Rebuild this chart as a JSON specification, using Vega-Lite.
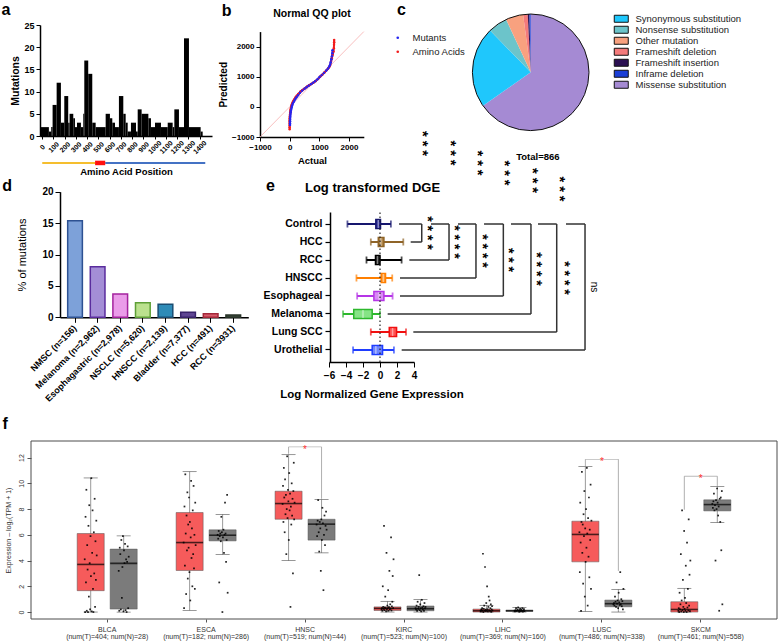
{
"$schema":"https://vega.github.io/schema/vega-lite/v6.json",
"width":778,"height":642,"autosize":"none","padding":0,
"config":{"font":"Liberation Sans","view":{"stroke":null},
 "axis":{"grid":false,"labelFont":"Liberation Sans","titleFont":"Liberation Sans","labelColor":"#000","titleColor":"#000","domainColor":"#000","tickColor":"#000","labelFlush":false,"labelOverlap":false,"labelBound":false},
 "legend":{"labelFont":"Liberation Sans","padding":0}},
"datasets":{
 "hist":[{"s":-15,"e":59,"n":2},{"s":59,"e":80,"n":1},{"s":80,"e":92,"n":2},{"s":92,"e":128,"n":7},{"s":128,"e":166,"n":12},{"s":166,"e":196,"n":3},{"s":196,"e":231,"n":9},{"s":231,"e":243,"n":3},{"s":243,"e":276,"n":5},{"s":276,"e":291,"n":4},{"s":291,"e":309,"n":2},{"s":309,"e":344,"n":3},{"s":344,"e":365,"n":2},{"s":365,"e":374,"n":5},{"s":374,"e":409,"n":17},{"s":409,"e":445,"n":14},{"s":445,"e":475,"n":3},{"s":475,"e":564,"n":2},{"s":564,"e":602,"n":5},{"s":602,"e":623,"n":4},{"s":623,"e":647,"n":3},{"s":647,"e":682,"n":2},{"s":682,"e":721,"n":9},{"s":721,"e":742,"n":5},{"s":742,"e":760,"n":3},{"s":760,"e":789,"n":1},{"s":789,"e":834,"n":3},{"s":834,"e":849,"n":1},{"s":849,"e":884,"n":6},{"s":884,"e":944,"n":5},{"s":944,"e":967,"n":4},{"s":967,"e":1003,"n":2},{"s":1003,"e":1056,"n":3},{"s":1056,"e":1116,"n":2},{"s":1116,"e":1160,"n":3},{"s":1160,"e":1175,"n":2},{"s":1175,"e":1216,"n":6},{"s":1216,"e":1261,"n":2},{"s":1261,"e":1305,"n":22},{"s":1305,"e":1409,"n":2},{"s":1409,"e":1427,"n":1}],
 "qq":[
  {"s":"Amino Acids","a":0,"p":-740},{"s":"Amino Acids","a":0,"p":-680},{"s":"Amino Acids","a":0,"p":-620},{"s":"Amino Acids","a":0,"p":-560},{"s":"Amino Acids","a":0,"p":-500},{"s":"Amino Acids","a":1,"p":-440},{"s":"Amino Acids","a":3,"p":-380},{"s":"Amino Acids","a":6,"p":-320},{"s":"Amino Acids","a":10,"p":-260},{"s":"Amino Acids","a":16,"p":-200},{"s":"Amino Acids","a":24,"p":-140},{"s":"Amino Acids","a":34,"p":-80},{"s":"Amino Acids","a":46,"p":-20},{"s":"Amino Acids","a":60,"p":40},{"s":"Amino Acids","a":75,"p":85},{"s":"Amino Acids","a":89,"p":122},{"s":"Amino Acids","a":110,"p":170},{"s":"Amino Acids","a":135,"p":215},{"s":"Amino Acids","a":165,"p":265},{"s":"Amino Acids","a":200,"p":321},{"s":"Amino Acids","a":240,"p":370},{"s":"Amino Acids","a":290,"p":425},{"s":"Amino Acids","a":367,"p":510},{"s":"Amino Acids","a":440,"p":565},{"s":"Amino Acids","a":510,"p":615},{"s":"Amino Acids","a":589,"p":676},{"s":"Amino Acids","a":660,"p":720},{"s":"Amino Acids","a":740,"p":765},{"s":"Amino Acids","a":811,"p":809},{"s":"Amino Acids","a":880,"p":860},{"s":"Amino Acids","a":960,"p":930},{"s":"Amino Acids","a":1033,"p":1008},{"s":"Amino Acids","a":1100,"p":1070},{"s":"Amino Acids","a":1180,"p":1150},{"s":"Amino Acids","a":1256,"p":1229},{"s":"Amino Acids","a":1310,"p":1290},{"s":"Amino Acids","a":1345,"p":1345},{"s":"Amino Acids","a":1367,"p":1395},{"s":"Amino Acids","a":1395,"p":1500},{"s":"Amino Acids","a":1422,"p":1616},{"s":"Amino Acids","a":1450,"p":1730},{"s":"Amino Acids","a":1478,"p":1838},{"s":"Amino Acids","a":1490,"p":1950},{"s":"Amino Acids","a":1496,"p":2060},{"s":"Amino Acids","a":1500,"p":2150},{"s":"Amino Acids","a":1500,"p":2226},
  {"s":"Mutants","a":12,"p":-600},{"s":"Mutants","a":12,"p":-540},{"s":"Mutants","a":13,"p":-480},{"s":"Mutants","a":14,"p":-420},{"s":"Mutants","a":16,"p":-360},{"s":"Mutants","a":20,"p":-300},{"s":"Mutants","a":26,"p":-240},{"s":"Mutants","a":34,"p":-180},{"s":"Mutants","a":44,"p":-120},{"s":"Mutants","a":56,"p":-60},{"s":"Mutants","a":70,"p":0},{"s":"Mutants","a":84,"p":50},{"s":"Mutants","a":100,"p":100},{"s":"Mutants","a":125,"p":150},{"s":"Mutants","a":155,"p":205},{"s":"Mutants","a":190,"p":265},{"s":"Mutants","a":230,"p":320},{"s":"Mutants","a":280,"p":385},{"s":"Mutants","a":345,"p":470},{"s":"Mutants","a":420,"p":540},{"s":"Mutants","a":500,"p":600},{"s":"Mutants","a":570,"p":655},{"s":"Mutants","a":640,"p":705},{"s":"Mutants","a":720,"p":755},{"s":"Mutants","a":790,"p":800},{"s":"Mutants","a":860,"p":850},{"s":"Mutants","a":940,"p":920},{"s":"Mutants","a":1010,"p":990},{"s":"Mutants","a":1080,"p":1055},{"s":"Mutants","a":1160,"p":1130},{"s":"Mutants","a":1236,"p":1210},{"s":"Mutants","a":1290,"p":1270},{"s":"Mutants","a":1330,"p":1330},{"s":"Mutants","a":1360,"p":1390},{"s":"Mutants","a":1385,"p":1480},{"s":"Mutants","a":1405,"p":1580},{"s":"Mutants","a":1425,"p":1680},{"s":"Mutants","a":1440,"p":1780},{"s":"Mutants","a":1444,"p":1880}],
 "pie":[{"type":"Missense substitution","n":565,"k":1},{"type":"Synonymous substitution","n":195,"k":2},{"type":"Nonsense substitution","n":46,"k":3},{"type":"Other mutation","n":42,"k":4},{"type":"Frameshift deletion","n":11,"k":5},{"type":"Frameshift insertion","n":4,"k":6},{"type":"Inframe deletion","n":3,"k":7}],
 "mut":[{"c":"NMSC (n=156)","v":15.38},{"c":"Melanoma (n=2,962)","v":8.06},{"c":"Esophagastric (n=2,978)","v":3.71},{"c":"NSCLC (n=5,620)","v":2.33},{"c":"HNSCC (n=2,139)","v":2.07},{"c":"Bladder (n=7,377)","v":0.8},{"c":"HCC (n=491)","v":0.58},{"c":"RCC (n=3931)","v":0.37}],
 "dge":[{"grp":"Control","lo":-3.83,"q1":-0.49,"med":-0.2,"q3":0.06,"hi":1.28},{"grp":"HCC","lo":-1.08,"q1":-0.2,"med":0.1,"q3":0.46,"hi":2.74},{"grp":"RCC","lo":-1.59,"q1":-0.53,"med":-0.3,"q3":0.0,"hi":2.54},{"grp":"HNSCC","lo":-2.77,"q1":0.14,"med":0.4,"q3":0.65,"hi":1.44},{"grp":"Esophageal","lo":-2.69,"q1":-0.72,"med":-0.1,"q3":0.46,"hi":1.48},{"grp":"Melanoma","lo":-4.35,"q1":-3.09,"med":-2.0,"q3":-0.92,"hi":0.0},{"grp":"Lung SCC","lo":-1.08,"q1":1.09,"med":1.48,"q3":1.95,"hi":3.06},{"grp":"Urothelial","lo":-3.17,"q1":-0.92,"med":-0.49,"q3":0.3,"hi":1.64}],
 "brk":[{"row":"HCC","xt":2.24,"xb":4.91,"xr":3.61},{"row":"RCC","xt":6.0,"xb":8.12,"xr":3.45},{"row":"HNSCC","xt":9.18,"xb":11.29,"xr":2.35},{"row":"Esophageal","xt":12.24,"xb":14.51,"xr":2.35},{"row":"Melanoma","xt":15.41,"xb":17.76,"xr":0.9},{"row":"Lung SCC","xt":18.59,"xb":20.79,"xr":3.92},{"row":"Urothelial","xt":21.88,"xb":24.12,"xr":2.55}],
 "sig":[{"x":5.96,"y":0.86,"lab":"* * * *"},{"x":9.13,"y":0.8,"lab":"* * * *"},{"x":12.38,"y":0.74,"lab":"* * * *"},{"x":15.53,"y":0.68,"lab":"* * *"},{"x":18.8,"y":0.62,"lab":"* * * *"},{"x":22.03,"y":0.56,"lab":"* * * *"}],
 "fstars":[{"x":5.38,"y":1.4567},{"x":8.71,"y":1.3933},{"x":11.88,"y":1.3267},{"x":15.06,"y":1.26},{"x":18.35,"y":1.21},{"x":21.53,"y":1.1533}],
 "fbox":[{"g":"BLCA","t":"Tumor","lo":0,"q1":1.66,"med":3.7,"q3":6.1,"hi":10.42},{"g":"BLCA","t":"Normal","lo":0,"q1":0.23,"med":3.78,"q3":4.89,"hi":5.92},{"g":"ESCA","t":"Tumor","lo":0.13,"q1":3.23,"med":5.4,"q3":7.73,"hi":10.91},{"g":"ESCA","t":"Normal","lo":4.47,"q1":5.53,"med":5.97,"q3":6.39,"hi":7.58},{"g":"HNSC","t":"Tumor","lo":4.0,"q1":7.21,"med":8.43,"q3":9.39,"hi":12.23},{"g":"HNSC","t":"Normal","lo":4.6,"q1":5.59,"med":6.83,"q3":7.21,"hi":8.74},{"g":"KIRC","t":"Tumor","lo":0,"q1":0.12,"med":0.28,"q3":0.4,"hi":0.83},{"g":"KIRC","t":"Normal","lo":0,"q1":0.1,"med":0.26,"q3":0.47,"hi":0.98},{"g":"LIHC","t":"Tumor","lo":0,"q1":0.0,"med":0.1,"q3":0.23,"hi":0.52},{"g":"LIHC","t":"Normal","lo":0,"q1":0.05,"med":0.1,"q3":0.15,"hi":0.36},{"g":"LUSC","t":"Tumor","lo":0.05,"q1":3.9,"med":6.03,"q3":7.06,"hi":11.3},{"g":"LUSC","t":"Normal","lo":0,"q1":0.41,"med":0.65,"q3":0.93,"hi":1.76},{"g":"SKCM","t":"Tumor","lo":0,"q1":0.0,"med":0.2,"q3":0.8,"hi":1.84},{"g":"SKCM","t":"Normal","lo":6.95,"q1":7.86,"med":8.35,"q3":8.72,"hi":9.75}],
 "fbr":[{"g":"HNSC","t":"Tumor","y1":12.3,"y2":12.83},{"g":"HNSC","t":"Normal","y1":8.8,"y2":12.83},{"g":"LUSC","t":"Tumor","y1":11.35,"y2":11.87},{"g":"LUSC","t":"Normal","y1":3.2,"y2":11.87},{"g":"SKCM","t":"Tumor","y1":7.95,"y2":10.55},{"g":"SKCM","t":"Normal","y1":9.8,"y2":10.55}],
 "fbh":[{"g":"HNSC","y":12.83},{"g":"LUSC","y":11.87},{"g":"SKCM","y":10.55}],
 "ptsT":[
  {"g":"BLCA","v":4.1},{"g":"BLCA","v":0.0},{"g":"BLCA","v":7.4},{"g":"BLCA","v":2.3},{"g":"BLCA","v":9.5},{"g":"BLCA","v":0.1},{"g":"BLCA","v":5.2},{"g":"BLCA","v":3.3},{"g":"BLCA","v":0.0},{"g":"BLCA","v":6.7},{"g":"BLCA","v":1.2},{"g":"BLCA","v":8.3},{"g":"BLCA","v":3.8},{"g":"BLCA","v":0.2},{"g":"BLCA","v":5.9},{"g":"BLCA","v":2.8},{"g":"BLCA","v":10.4},{"g":"BLCA","v":0.05},{"g":"BLCA","v":4.6},{"g":"BLCA","v":7.9},{"g":"BLCA","v":1.8},{"g":"BLCA","v":0.0},{"g":"BLCA","v":6.2},{"g":"BLCA","v":3.0},{"g":"BLCA","v":8.8},{"g":"BLCA","v":0.4},{"g":"BLCA","v":5.5},{"g":"BLCA","v":2.5},{"g":"BLCA","v":7.1},{"g":"BLCA","v":4.4},
  {"g":"ESCA","v":5.4},{"g":"ESCA","v":0.3},{"g":"ESCA","v":8.2},{"g":"ESCA","v":3.6},{"g":"ESCA","v":10.7},{"g":"ESCA","v":6.1},{"g":"ESCA","v":1.4},{"g":"ESCA","v":7.5},{"g":"ESCA","v":4.8},{"g":"ESCA","v":9.3},{"g":"ESCA","v":2.6},{"g":"ESCA","v":6.8},{"g":"ESCA","v":5.0},{"g":"ESCA","v":8.9},{"g":"ESCA","v":3.1},{"g":"ESCA","v":7.0},{"g":"ESCA","v":0.9},{"g":"ESCA","v":5.8},{"g":"ESCA","v":10.2},{"g":"ESCA","v":4.2},{"g":"ESCA","v":6.5},{"g":"ESCA","v":2.0},{"g":"ESCA","v":7.9},{"g":"ESCA","v":4.5},{"g":"ESCA","v":9.8},{"g":"ESCA","v":3.4},{"g":"ESCA","v":6.0},{"g":"ESCA","v":1.8},{"g":"ESCA","v":8.5},{"g":"ESCA","v":5.2},
  {"g":"HNSC","v":8.4},{"g":"HNSC","v":9.8},{"g":"HNSC","v":7.0},{"g":"HNSC","v":11.2},{"g":"HNSC","v":8.9},{"g":"HNSC","v":6.2},{"g":"HNSC","v":10.3},{"g":"HNSC","v":7.6},{"g":"HNSC","v":9.1},{"g":"HNSC","v":4.5},{"g":"HNSC","v":8.0},{"g":"HNSC","v":12.1},{"g":"HNSC","v":7.3},{"g":"HNSC","v":9.5},{"g":"HNSC","v":8.6},{"g":"HNSC","v":5.6},{"g":"HNSC","v":10.8},{"g":"HNSC","v":7.9},{"g":"HNSC","v":9.2},{"g":"HNSC","v":0.4},{"g":"HNSC","v":8.2},{"g":"HNSC","v":6.8},{"g":"HNSC","v":10.0},{"g":"HNSC","v":7.5},{"g":"HNSC","v":8.8},{"g":"HNSC","v":3.0},{"g":"HNSC","v":9.4},{"g":"HNSC","v":11.6},{"g":"HNSC","v":7.2},{"g":"HNSC","v":8.5},
  {"g":"KIRC","v":0.2},{"g":"KIRC","v":0.3},{"g":"KIRC","v":0.1},{"g":"KIRC","v":2.0},{"g":"KIRC","v":0.4},{"g":"KIRC","v":0.25},{"g":"KIRC","v":6.7},{"g":"KIRC","v":0.15},{"g":"KIRC","v":0.35},{"g":"KIRC","v":1.2},{"g":"KIRC","v":0.3},{"g":"KIRC","v":0.05},{"g":"KIRC","v":4.6},{"g":"KIRC","v":0.2},{"g":"KIRC","v":0.5},{"g":"KIRC","v":0.3},{"g":"KIRC","v":1.7},{"g":"KIRC","v":0.1},{"g":"KIRC","v":0.38},{"g":"KIRC","v":3.2},{"g":"KIRC","v":0.22},{"g":"KIRC","v":0.6},{"g":"KIRC","v":0.28},{"g":"KIRC","v":5.8},{"g":"KIRC","v":0.12},{"g":"KIRC","v":0.45},{"g":"KIRC","v":0.8},{"g":"KIRC","v":2.8},{"g":"KIRC","v":0.3},{"g":"KIRC","v":4.1},
  {"g":"LIHC","v":0.1},{"g":"LIHC","v":0.05},{"g":"LIHC","v":0.2},{"g":"LIHC","v":0.15},{"g":"LIHC","v":0.3},{"g":"LIHC","v":0.1},{"g":"LIHC","v":4.53},{"g":"LIHC","v":0.0},{"g":"LIHC","v":0.25},{"g":"LIHC","v":0.5},{"g":"LIHC","v":0.12},{"g":"LIHC","v":3.5},{"g":"LIHC","v":0.08},{"g":"LIHC","v":0.18},{"g":"LIHC","v":0.7},{"g":"LIHC","v":0.1},{"g":"LIHC","v":2.0},{"g":"LIHC","v":0.22},{"g":"LIHC","v":0.05},{"g":"LIHC","v":0.4},{"g":"LIHC","v":1.2},{"g":"LIHC","v":0.14},{"g":"LIHC","v":0.9},{"g":"LIHC","v":0.1},{"g":"LIHC","v":0.3},{"g":"LIHC","v":0.6},{"g":"LIHC","v":0.02},{"g":"LIHC","v":0.2},{"g":"LIHC","v":0.45},{"g":"LIHC","v":0.12},
  {"g":"LUSC","v":6.2},{"g":"LUSC","v":3.1},{"g":"LUSC","v":8.5},{"g":"LUSC","v":5.4},{"g":"LUSC","v":0.1},{"g":"LUSC","v":7.0},{"g":"LUSC","v":10.9},{"g":"LUSC","v":4.6},{"g":"LUSC","v":6.8},{"g":"LUSC","v":2.2},{"g":"LUSC","v":7.6},{"g":"LUSC","v":5.9},{"g":"LUSC","v":9.4},{"g":"LUSC","v":1.2},{"g":"LUSC","v":6.5},{"g":"LUSC","v":3.9},{"g":"LUSC","v":8.0},{"g":"LUSC","v":5.0},{"g":"LUSC","v":11.2},{"g":"LUSC","v":6.1},{"g":"LUSC","v":0.5},{"g":"LUSC","v":7.3},{"g":"LUSC","v":4.3},{"g":"LUSC","v":8.9},{"g":"LUSC","v":2.7},{"g":"LUSC","v":6.4},{"g":"LUSC","v":5.6},{"g":"LUSC","v":9.9},{"g":"LUSC","v":1.8},{"g":"LUSC","v":7.1},
  {"g":"SKCM","v":0.1},{"g":"SKCM","v":0.3},{"g":"SKCM","v":0.0},{"g":"SKCM","v":1.5},{"g":"SKCM","v":0.2},{"g":"SKCM","v":0.6},{"g":"SKCM","v":4.5},{"g":"SKCM","v":0.05},{"g":"SKCM","v":0.9},{"g":"SKCM","v":7.9},{"g":"SKCM","v":0.15},{"g":"SKCM","v":2.5},{"g":"SKCM","v":0.4},{"g":"SKCM","v":0.0},{"g":"SKCM","v":6.3},{"g":"SKCM","v":0.25},{"g":"SKCM","v":1.1},{"g":"SKCM","v":0.1},{"g":"SKCM","v":3.6},{"g":"SKCM","v":0.7},{"g":"SKCM","v":0.0},{"g":"SKCM","v":5.4},{"g":"SKCM","v":0.35},{"g":"SKCM","v":1.8},{"g":"SKCM","v":0.12},{"g":"SKCM","v":7.2},{"g":"SKCM","v":0.5},{"g":"SKCM","v":2.9},{"g":"SKCM","v":0.08},{"g":"SKCM","v":4.0}],
 "ptsN":[
  {"g":"BLCA","v":3.2},{"g":"BLCA","v":0.1},{"g":"BLCA","v":5.0},{"g":"BLCA","v":4.5},{"g":"BLCA","v":0.2},{"g":"BLCA","v":5.6},{"g":"BLCA","v":1.1},{"g":"BLCA","v":3.5},{"g":"BLCA","v":5.9},{"g":"BLCA","v":0.05},{"g":"BLCA","v":4.8},{"g":"BLCA","v":3.8},{"g":"BLCA","v":5.3},{"g":"BLCA","v":0.15},{"g":"BLCA","v":4.1},{"g":"BLCA","v":0.0},{"g":"BLCA","v":3.9},{"g":"BLCA","v":5.1},{"g":"BLCA","v":0.3},{"g":"BLCA","v":4.3},
  {"g":"ESCA","v":6.0},{"g":"ESCA","v":5.7},{"g":"ESCA","v":6.3},{"g":"ESCA","v":2.3},{"g":"ESCA","v":5.9},{"g":"ESCA","v":6.1},{"g":"ESCA","v":5.5},{"g":"ESCA","v":7.4},{"g":"ESCA","v":6.2},{"g":"ESCA","v":0.0},{"g":"ESCA","v":5.8},{"g":"ESCA","v":6.4},{"g":"ESCA","v":4.6},{"g":"ESCA","v":6.0},{"g":"ESCA","v":8.5},{"g":"ESCA","v":6.1},{"g":"ESCA","v":3.9},{"g":"ESCA","v":5.6},{"g":"ESCA","v":9.1},{"g":"ESCA","v":1.5},
  {"g":"HNSC","v":6.8},{"g":"HNSC","v":5.9},{"g":"HNSC","v":7.1},{"g":"HNSC","v":8.7},{"g":"HNSC","v":6.2},{"g":"HNSC","v":4.7},{"g":"HNSC","v":7.0},{"g":"HNSC","v":6.5},{"g":"HNSC","v":3.2},{"g":"HNSC","v":7.2},{"g":"HNSC","v":5.6},{"g":"HNSC","v":8.1},{"g":"HNSC","v":6.9},{"g":"HNSC","v":1.7},{"g":"HNSC","v":6.0},{"g":"HNSC","v":7.5},{"g":"HNSC","v":5.2},{"g":"HNSC","v":6.7},{"g":"HNSC","v":7.8},{"g":"HNSC","v":6.4},
  {"g":"KIRC","v":0.3},{"g":"KIRC","v":0.2},{"g":"KIRC","v":0.5},{"g":"KIRC","v":0.1},{"g":"KIRC","v":0.8},{"g":"KIRC","v":0.25},{"g":"KIRC","v":0.4},{"g":"KIRC","v":2.87},{"g":"KIRC","v":0.15},{"g":"KIRC","v":0.6},{"g":"KIRC","v":0.3},{"g":"KIRC","v":0.05},{"g":"KIRC","v":0.95},{"g":"KIRC","v":0.35},{"g":"KIRC","v":0.2},{"g":"KIRC","v":0.45},{"g":"KIRC","v":0.1},{"g":"KIRC","v":0.7},{"g":"KIRC","v":0.28},{"g":"KIRC","v":0.4},
  {"g":"LIHC","v":0.1},{"g":"LIHC","v":0.05},{"g":"LIHC","v":0.15},{"g":"LIHC","v":0.3},{"g":"LIHC","v":0.08},{"g":"LIHC","v":0.12},{"g":"LIHC","v":0.2},{"g":"LIHC","v":0.36},{"g":"LIHC","v":0.1},{"g":"LIHC","v":0.02},{"g":"LIHC","v":0.14},{"g":"LIHC","v":0.25},{"g":"LIHC","v":0.06},{"g":"LIHC","v":0.18},{"g":"LIHC","v":0.1},{"g":"LIHC","v":0.3},{"g":"LIHC","v":0.04},{"g":"LIHC","v":0.12},{"g":"LIHC","v":0.22},{"g":"LIHC","v":0.07},
  {"g":"LUSC","v":0.6},{"g":"LUSC","v":0.7},{"g":"LUSC","v":0.5},{"g":"LUSC","v":1.2},{"g":"LUSC","v":0.8},{"g":"LUSC","v":0.4},{"g":"LUSC","v":2.3},{"g":"LUSC","v":0.65},{"g":"LUSC","v":0.9},{"g":"LUSC","v":0.3},{"g":"LUSC","v":1.5},{"g":"LUSC","v":0.75},{"g":"LUSC","v":0.55},{"g":"LUSC","v":3.1},{"g":"LUSC","v":0.6},{"g":"LUSC","v":1.0},{"g":"LUSC","v":0.45},{"g":"LUSC","v":0.85},{"g":"LUSC","v":0.2},{"g":"LUSC","v":1.8},
  {"g":"SKCM","v":8.4},{"g":"SKCM","v":8.1},{"g":"SKCM","v":8.6},{"g":"SKCM","v":9.2},{"g":"SKCM","v":7.9},{"g":"SKCM","v":8.3},{"g":"SKCM","v":4.0},{"g":"SKCM","v":8.7},{"g":"SKCM","v":8.0},{"g":"SKCM","v":9.6},{"g":"SKCM","v":8.5},{"g":"SKCM","v":7.5},{"g":"SKCM","v":8.2},{"g":"SKCM","v":0.1},{"g":"SKCM","v":8.8},{"g":"SKCM","v":7.0},{"g":"SKCM","v":8.9},{"g":"SKCM","v":4.8},{"g":"SKCM","v":9.4},{"g":"SKCM","v":0.6}]
},
"layer":[
 {"layer":[
  {"data":{"name":"hist"},"mark":{"type":"rect","color":"#000"},
   "encoding":{
    "x":{"field":"s","type":"quantitative","scale":{"domain":[-20,1510],"range":[40,212],"nice":false,"zero":false},
      "axis":{"orient":"bottom","offset":-506,"values":[0,100,200,300,400,500,600,700,800,900,1000,1100,1200,1300,1400],"format":"d","labelAngle":-45,"labelAlign":"center","labelBaseline":"middle","labelPadding":8,"labelFontSize":7,"labelFontWeight":"bold","tickSize":3,"domainWidth":1.5,"title":"Amino Acid  Position","titleFontSize":9.5,"titleFontWeight":"bold","titleY":35,"titleBaseline":"middle"}},
    "x2":{"field":"e"},
    "y":{"field":"n","type":"quantitative","scale":{"domain":[0,25],"range":[136,25],"nice":false,"zero":false},
      "axis":{"orient":"left","offset":-40,"values":[0,5,10,15,20,25],"labelFontSize":9,"labelFontWeight":"bold","tickSize":4,"labelPadding":2,"domainWidth":1.5,"title":"Mutations","titleFontSize":10.5,"titleFontWeight":"bold","titlePadding":3}},
    "y2":{"datum":0}}},
  {"data":{"values":[{}]},"mark":{"type":"rule","color":"#F5BE2E","strokeWidth":2},"encoding":{"x":{"datum":0,"type":"quantitative"},"x2":{"datum":470},"y":{"datum":-6.07,"type":"quantitative"}}},
  {"data":{"values":[{}]},"mark":{"type":"rule","color":"#4472C4","strokeWidth":2},"encoding":{"x":{"datum":560,"type":"quantitative"},"x2":{"datum":1450},"y":{"datum":-6.07,"type":"quantitative"}}},
  {"data":{"values":[{}]},"mark":{"type":"rule","color":"#FF1010","strokeWidth":4.5},"encoding":{"x":{"datum":470,"type":"quantitative"},"x2":{"datum":560},"y":{"datum":-6.07,"type":"quantitative"}}},
  {"data":{"values":[{}]},"mark":{"type":"text","text":"a","fontSize":16,"fontWeight":"bold","align":"left","baseline":"middle"},"encoding":{"x":{"datum":-361.5,"type":"quantitative"},"y":{"datum":28.3,"type":"quantitative"}}},
  {"data":{"values":[{}]},"mark":{"type":"text","text":"d","fontSize":16,"fontWeight":"bold","align":"left","baseline":"middle"},"encoding":{"x":{"datum":-356,"type":"quantitative"},"y":{"datum":-11.24,"type":"quantitative"}}},
  {"data":{"values":[{}]},"mark":{"type":"text","text":"f","fontSize":16,"fontWeight":"bold","align":"left","baseline":"middle"},"encoding":{"x":{"datum":-352.6,"type":"quantitative"},"y":{"datum":-64.94,"type":"quantitative"}}}
 ]},
 {"layer":[
  {"data":{"values":[{}]},"mark":{"type":"rule","color":"#F6AFAF","strokeWidth":0.8},
   "encoding":{
    "x":{"datum":-1000,"type":"quantitative","scale":{"domain":[-1000,2500],"range":[260,363.8],"nice":false,"zero":false},
      "axis":{"orient":"bottom","offset":-505,"values":[-1000,0,1000,2000],"format":"d","labelFontSize":8,"labelFontWeight":"bold","tickSize":4,"labelPadding":2,"domainWidth":1.5,"title":"Actual","titleFontSize":9.5,"titleFontWeight":"bold","titlePadding":4}},
    "x2":{"datum":2500},
    "y":{"datum":-1000,"type":"quantitative","scale":{"domain":[-1000,2500],"range":[137,31.6],"nice":false,"zero":false},
      "axis":{"orient":"left","offset":-260,"values":[-1000,0,1000,2000],"format":"d","labelFontSize":8,"labelFontWeight":"bold","tickSize":4,"labelPadding":2,"domainWidth":1.5,"title":"Predicted","titleFontSize":10,"titleFontWeight":"bold","titlePadding":3}},
    "y2":{"datum":2500}}},
  {"data":{"name":"qq"},"mark":{"type":"line","strokeWidth":2},
   "encoding":{"x":{"field":"a","type":"quantitative"},"y":{"field":"p","type":"quantitative"},"order":{"field":"p","type":"quantitative"},
    "color":{"field":"s","type":"nominal","scale":{"domain":["Mutants","Amino Acids"],"range":["#2424F0","#F21C1C"]}}}},
  {"data":{"name":"qq"},"mark":{"type":"point","filled":true,"size":6,"opacity":1},
   "encoding":{"x":{"field":"a","type":"quantitative"},"y":{"field":"p","type":"quantitative"},
    "color":{"field":"s","type":"nominal","legend":{"orient":"none","legendX":393,"legendY":33,"title":null,"symbolType":"circle","symbolSize":7,"symbolStrokeWidth":0,"labelFontSize":9.5,"labelOffset":10,"rowPadding":3,"labelColor":"#222"}}}},
  {"data":{"values":[{}]},"mark":{"type":"text","text":"Normal QQ plot","fontSize":10.5,"fontWeight":"bold","align":"center","baseline":"middle"},"encoding":{"x":{"datum":752.6,"type":"quantitative"},"y":{"datum":3084.5,"type":"quantitative"}}},
  {"data":{"values":[{}]},"mark":{"type":"text","text":"b","fontSize":16,"fontWeight":"bold","align":"left","baseline":"middle"},"encoding":{"x":{"datum":-2291,"type":"quantitative"},"y":{"datum":3200,"type":"quantitative"}}},
  {"data":{"values":[{}]},"mark":{"type":"text","text":"c","fontSize":16,"fontWeight":"bold","align":"left","baseline":"middle"},"encoding":{"x":{"datum":3617,"type":"quantitative"},"y":{"datum":3217,"type":"quantitative"}}},
  {"data":{"values":[{}]},"mark":{"type":"text","text":"Total=866","fontSize":9.5,"fontWeight":"bold","align":"center","baseline":"middle"},"encoding":{"x":{"datum":8370,"type":"quantitative"},"y":{"datum":-1664,"type":"quantitative"}}}
 ]},
 {"layer":[
  {"data":{"name":"pie"},"mark":{"type":"arc","outerRadius":58.3},
   "encoding":{
    "theta":{"field":"n","type":"quantitative"},
    "order":{"field":"k","type":"quantitative"},
    "color":{"field":"type","type":"nominal","scale":{"domain":["Synonymous substitution","Nonsense substitution","Other mutation","Frameshift deletion","Frameshift insertion","Inframe deletion","Missense substitution"],"range":["#1FC7FC","#6CC4CA","#F8A17F","#F47B7B","#2B1052","#1B3FD6","#A58AD3"]},
      "legend":{"orient":"none","legendX":616.5,"legendY":14,"title":null,"symbolType":"M-2,-1L2,-1L2,1L-2,1Z","symbolSize":49,"symbolStrokeColor":"#111","symbolStrokeWidth":1,"labelFontSize":9.5,"labelOffset":9.5,"rowPadding":-1,"labelColor":"#222"}},
    "x":{"datum":"c","type":"nominal","scale":{"type":"point","domain":["c"],"range":[472.4,589]},"axis":null},
    "y":{"datum":"c","type":"nominal","scale":{"type":"point","domain":["c"],"range":[130.6,14]},"axis":null}}},
  {"data":{"values":[{}]},"mark":{"type":"arc","outerRadius":58.3,"theta":0,"theta2":6.2832,"filled":false,"stroke":"#111","strokeWidth":1},
   "encoding":{"x":{"datum":"c","type":"nominal"},"y":{"datum":"c","type":"nominal"}}}
 ]},
 {"layer":[
  {"data":{"name":"mut"},"mark":{"type":"bar","strokeWidth":1.5},
   "encoding":{
    "x":{"field":"c","type":"nominal","scale":{"domain":["NMSC (n=156)","Melanoma (n=2,962)","Esophagastric (n=2,978)","NSCLC (n=5,620)","HNSCC (n=2,139)","Bladder (n=7,377)","HCC (n=491)","RCC (n=3931)"],"range":[60,248.3],"paddingInner":0.35,"paddingOuter":0.34},
      "axis":{"orient":"bottom","offset":-324.7,"labelAngle":-45,"labelAlign":"right","labelBaseline":"middle","labelFontSize":9,"labelFontWeight":"bold","tickSize":5,"labelPadding":4,"domainWidth":1.5,"title":null}},
    "y":{"field":"v","type":"quantitative","scale":{"domain":[0,20],"range":[317.3,191.7],"nice":false},
      "axis":{"orient":"left","offset":-60,"values":[0,5,10,15,20],"labelFontSize":10,"labelFontWeight":"bold","tickSize":5,"labelPadding":2,"domainWidth":1.5,"title":"% of mutations","titleFontSize":11,"titleFontWeight":"normal","titlePadding":14}},
    "fill":{"field":"c","type":"nominal","scale":{"domain":["NMSC (n=156)","Melanoma (n=2,962)","Esophagastric (n=2,978)","NSCLC (n=5,620)","HNSCC (n=2,139)","Bladder (n=7,377)","HCC (n=491)","RCC (n=3931)"],"range":["#7DA1D9","#A48ED6","#EA9CE9","#BBE18E","#2E8BB7","#5F4693","#D95D6C","#3E4C3E"]},"legend":null},
    "stroke":{"field":"c","type":"nominal","scale":{"domain":["NMSC (n=156)","Melanoma (n=2,962)","Esophagastric (n=2,978)","NSCLC (n=5,620)","HNSCC (n=2,139)","Bladder (n=7,377)","HCC (n=491)","RCC (n=3931)"],"range":["#2D5192","#5A2C9D","#A4239E","#5E9F37","#1A4D72","#39236A","#A3283A","#283328"]},"legend":null}}}
 ]},
 {"layer":[
  {"layer":[
   {"data":{"name":"dge"},"mark":{"type":"rule","strokeWidth":1.8},
    "encoding":{
     "x":{"field":"lo","type":"quantitative","scale":{"domain":[-6,4],"range":[329,414],"nice":false,"zero":false},
       "axis":{"orient":"bottom","offset":-280,"values":[-6,-4,-2,0,2,4],"format":"d","domain":true,"domainColor":"#000","labelFontSize":10,"labelFontWeight":"bold","tickSize":5,"labelPadding":3,"domainWidth":1.5,"title":"Log Normalized Gene Expression","titleFontSize":11.5,"titleFontWeight":"bold","titlePadding":8}},
     "x2":{"field":"hi"},
     "y":{"field":"grp","type":"nominal","scale":{"domain":["Control","HCC","RCC","HNSCC","Esophageal","Melanoma","Lung SCC","Urothelial"],"range":[212,362],"paddingInner":0.5,"paddingOuter":0.417},
       "axis":{"orient":"left","offset":-330,"labelFontSize":10.5,"labelFontWeight":"bold","tickSize":5,"labelPadding":3,"domainWidth":1.5,"tickWidth":1.2,"title":null}},
     "color":{"field":"grp","type":"nominal","scale":{"domain":["Control","HCC","RCC","HNSCC","Esophageal","Melanoma","Lung SCC","Urothelial"],"range":["#16166E","#8F6428","#000000","#FF7F00","#B535E6","#2DB82D","#F01010","#1F3DFF"]},"legend":null}}},
   {"data":{"name":"dge"},"mark":{"type":"tick","size":7,"thickness":1.8},
    "encoding":{"x":{"field":"lo","type":"quantitative"},"y":{"field":"grp","type":"nominal"},"color":{"field":"grp","type":"nominal","legend":null}}},
   {"data":{"name":"dge"},"mark":{"type":"tick","size":7,"thickness":1.8},
    "encoding":{"x":{"field":"hi","type":"quantitative"},"y":{"field":"grp","type":"nominal"},"color":{"field":"grp","type":"nominal","legend":null}}},
   {"data":{"name":"dge"},"mark":{"type":"bar","strokeWidth":1.5},
    "encoding":{"x":{"field":"q1","type":"quantitative"},"x2":{"field":"q3"},"y":{"field":"grp","type":"nominal"},
     "fill":{"field":"grp","type":"nominal","scale":{"domain":["Control","HCC","RCC","HNSCC","Esophageal","Melanoma","Lung SCC","Urothelial"],"range":["#2B2B98","#B08547","#1A1A1A","#FF9326","#D98CF5","#86E486","#FF5252","#6F86FF"]},"legend":null},
     "stroke":{"field":"grp","type":"nominal","scale":{"domain":["Control","HCC","RCC","HNSCC","Esophageal","Melanoma","Lung SCC","Urothelial"],"range":["#16166E","#8F6428","#000000","#FF7F00","#B535E6","#2DB82D","#F01010","#1F3DFF"]},"legend":null}}},
   {"data":{"name":"dge"},"mark":{"type":"tick","size":8,"thickness":1.5,"color":"#FFFFFF","opacity":0.45},
    "encoding":{"x":{"field":"med","type":"quantitative"},"y":{"field":"grp","type":"nominal"}}},
   {"data":{"name":"brk"},"mark":{"type":"rule","color":"#333","strokeWidth":1.5},
    "encoding":{"x":{"field":"xt","type":"quantitative"},"x2":{"field":"xb"},"y":{"datum":"Control","type":"nominal"}}},
   {"data":{"name":"brk"},"mark":{"type":"rule","color":"#333","strokeWidth":1.5},
    "encoding":{"x":{"field":"xb","type":"quantitative"},"y":{"field":"row","type":"nominal"},"y2":{"datum":"Control"}}},
   {"data":{"name":"brk"},"mark":{"type":"rule","color":"#333","strokeWidth":1.5},
    "encoding":{"x":{"field":"xr","type":"quantitative"},"x2":{"field":"xb"},"y":{"field":"row","type":"nominal"}}}
  ]},
  {"layer":[
   {"data":{"values":[{}]},"mark":{"type":"rule","color":"#222","strokeWidth":1.2,"strokeDash":[1.5,2.5]},
    "encoding":{"x":{"datum":0,"type":"quantitative"},"y":{"datum":0,"type":"quantitative","scale":{"domain":[0,1],"range":[362,212],"nice":false,"zero":false},"axis":null},"y2":{"datum":1}}},
   {"data":{"name":"sig"},"mark":{"type":"text","fontSize":14,"fontWeight":"bold","angle":90,"align":"center","baseline":"middle","dy":3.7},
    "encoding":{"x":{"field":"x","type":"quantitative"},"y":{"field":"y","type":"quantitative"},"text":{"field":"lab","type":"nominal"}}},
   {"data":{"name":"fstars"},"mark":{"type":"text","text":"* * *","fontSize":14.5,"fontWeight":"bold","angle":90,"align":"center","baseline":"middle","dy":3.7},
    "encoding":{"x":{"field":"x","type":"quantitative"},"y":{"field":"y","type":"quantitative"}}},
   {"data":{"values":[{}]},"mark":{"type":"text","text":"ns","fontSize":10,"angle":90,"align":"center","baseline":"middle"},
    "encoding":{"x":{"datum":25.17,"type":"quantitative"},"y":{"datum":0.5,"type":"quantitative"}}},
   {"data":{"values":[{}]},"mark":{"type":"text","text":"Log transformed DGE","fontSize":13,"fontWeight":"bold","align":"center","baseline":"middle"},
    "encoding":{"x":{"datum":-0.88,"type":"quantitative"},"y":{"datum":1.158,"type":"quantitative"}}},
   {"data":{"values":[{}]},"mark":{"type":"text","text":"e","fontSize":16,"fontWeight":"bold","align":"left","baseline":"middle"},
    "encoding":{"x":{"datum":-13.41,"type":"quantitative"},"y":{"datum":1.1733,"type":"quantitative"}}}
  ]}
 ],"resolve":{"scale":{"y":"independent"},"axis":{"y":"independent"}}},
 {"layer":[
  {"data":{"values":[{}]},"mark":{"type":"rect","filled":false,"stroke":"#4d4d4d","strokeWidth":1},
   "encoding":{"x":{"datum":0,"type":"quantitative","scale":{"domain":[0,1],"range":[31,777],"nice":false,"zero":false},"axis":null},"x2":{"datum":1},"y":{"datum":-0.54,"type":"quantitative"},"y2":{"datum":13.29}}},
  {"layer":[
   {"layer":[
    {"data":{"name":"fbox"},"mark":{"type":"rule","color":"#555","strokeWidth":0.6},
     "encoding":{
      "x":{"field":"g","type":"nominal","scale":{"domain":["BLCA","ESCA","HNSC","KIRC","LIHC","LUSC","SKCM"],"range":[31,777],"paddingInner":0,"paddingOuter":0.27},
        "axis":{"orient":"bottom","offset":-23,"labelExpr":"datum.value == 'BLCA' ? ['BLCA','(num(T)=404; num(N)=28)'] : datum.value == 'ESCA' ? ['ESCA','(num(T)=182; num(N)=286)'] : datum.value == 'HNSC' ? ['HNSC','(num(T)=519; num(N)=44)'] : datum.value == 'KIRC' ? ['KIRC','(num(T)=523; num(N)=100)'] : datum.value == 'LIHC' ? ['LIHC','(num(T)=369; num(N)=160)'] : datum.value == 'LUSC' ? ['LUSC','(num(T)=486; num(N)=338)'] : ['SKCM','(num(T)=461; num(N)=558)']","labelAngle":0,"labelAlign":"center","labelBaseline":"top","labelFontSize":7,"labelLineHeight":7.5,"labelColor":"#333","labelPadding":3,"tickSize":3,"tickColor":"#555","domain":false,"title":null}},
      "xOffset":{"field":"t","type":"nominal","scale":{"domain":["Tumor","Normal"],"paddingInner":0.18,"paddingOuter":0.59}},
      "y":{"field":"lo","type":"quantitative","scale":{"domain":[-0.54,13.29],"range":[619,441],"nice":false,"zero":false},
        "axis":{"orient":"left","offset":-31,"values":[0,2,4,6,8,10,12],"labelAngle":-90,"labelAlign":"center","labelBaseline":"bottom","labelFontSize":7,"labelColor":"#333","tickSize":4,"tickColor":"#555","labelPadding":3,"domain":false,"title":"Expression – log₂(TPM + 1)","titleFontSize":7,"titleFontWeight":"normal","titleColor":"#333","titlePadding":6}},
      "y2":{"field":"hi"}}},
    {"data":{"name":"fbox"},"mark":{"type":"tick","size":14,"thickness":0.8,"color":"#444"},
     "encoding":{"x":{"field":"g","type":"nominal"},"xOffset":{"field":"t","type":"nominal"},"y":{"field":"lo","type":"quantitative"}}},
    {"data":{"name":"fbox"},"mark":{"type":"tick","size":14,"thickness":0.8,"color":"#444"},
     "encoding":{"x":{"field":"g","type":"nominal"},"xOffset":{"field":"t","type":"nominal"},"y":{"field":"hi","type":"quantitative"}}},
    {"data":{"name":"fbox"},"mark":{"type":"bar","stroke":"#555","strokeWidth":0.5,"opacity":1},
     "encoding":{"x":{"field":"g","type":"nominal"},"xOffset":{"field":"t","type":"nominal"},"y":{"field":"q1","type":"quantitative"},"y2":{"field":"q3"},
      "fill":{"field":"t","type":"nominal","scale":{"domain":["Tumor","Normal"],"range":["#F65B5B","#7B7B7B"]},"legend":null}}}
   ]},
   {"data":{"name":"ptsT"},"transform":[{"window":[{"op":"row_number","as":"rn"}],"groupby":["g"]}],
    "mark":{"type":"square","size":3,"color":"#000","opacity":0.85},
    "encoding":{"x":{"field":"g","type":"nominal"},"xOffset":{"field":"rn","type":"ordinal","scale":{"type":"point","range":[27,39],"padding":0}},"y":{"field":"v","type":"quantitative"}}},
   {"data":{"name":"ptsN"},"transform":[{"window":[{"op":"row_number","as":"rn"}],"groupby":["g"]}],
    "mark":{"type":"square","size":3,"color":"#000","opacity":0.85},
    "encoding":{"x":{"field":"g","type":"nominal"},"xOffset":{"field":"rn","type":"ordinal","scale":{"type":"point","range":[61,71],"padding":0}},"y":{"field":"v","type":"quantitative"}}},
   {"layer":[
    {"data":{"name":"fbox"},"mark":{"type":"tick","size":27,"thickness":1.6,"color":"#000"},
     "encoding":{"x":{"field":"g","type":"nominal"},"xOffset":{"field":"t","type":"nominal","scale":{"domain":["Tumor","Normal"],"paddingInner":0.18,"paddingOuter":0.59}},"y":{"field":"med","type":"quantitative"}}},
    {"data":{"name":"fbr"},"mark":{"type":"rule","color":"#9a9a9a","strokeWidth":0.8},
     "encoding":{"x":{"field":"g","type":"nominal"},"xOffset":{"field":"t","type":"nominal"},"y":{"field":"y1","type":"quantitative"},"y2":{"field":"y2"}}},
    {"data":{"name":"fbh"},"mark":{"type":"tick","size":33,"thickness":0.8,"color":"#9a9a9a"},
     "encoding":{"x":{"field":"g","type":"nominal"},"y":{"field":"y","type":"quantitative"}}},
    {"data":{"name":"fbh"},"mark":{"type":"text","text":"*","fontSize":10,"color":"#FF3030","align":"center","baseline":"middle","dy":2.6},
     "encoding":{"x":{"field":"g","type":"nominal"},"y":{"field":"y","type":"quantitative"}}}
   ]}
  ],"resolve":{"scale":{"xOffset":"independent"}}}
 ],"resolve":{"scale":{"x":"independent"},"axis":{"x":"independent"}}}
],
"resolve":{"scale":{"x":"independent","y":"independent","color":"independent","fill":"independent","stroke":"independent","xOffset":"independent","theta":"independent"},"axis":{"x":"independent","y":"independent"},"legend":{"color":"independent"}}
}
